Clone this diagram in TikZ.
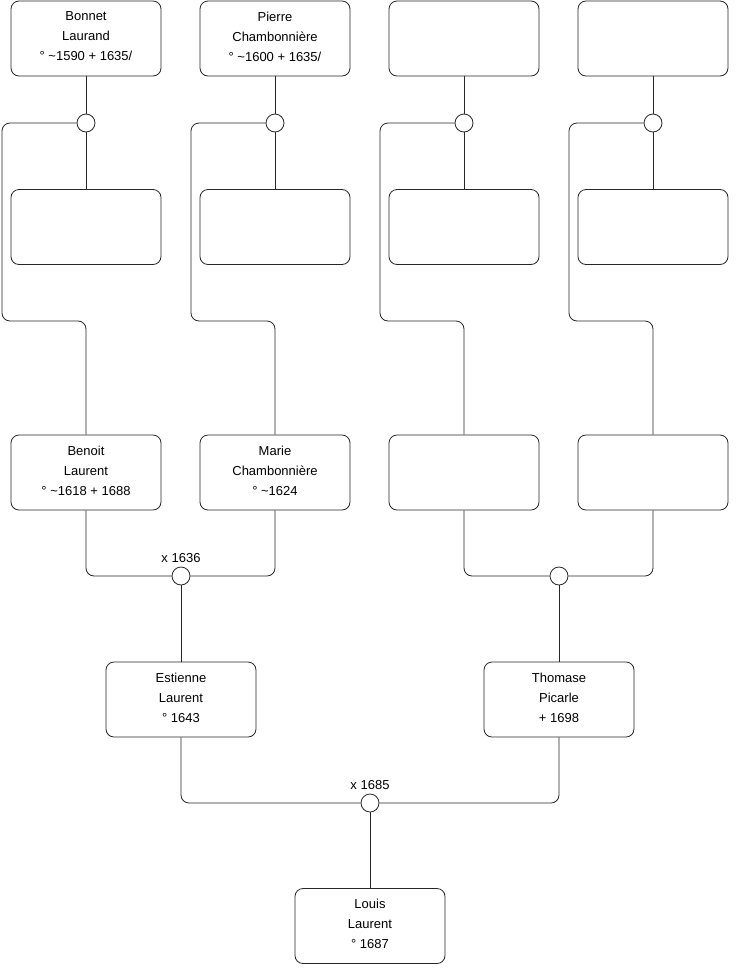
\documentclass[tikz,border=0pt]{standalone}
\usepackage{fontspec}
\setmainfont{Liberation Sans}
\begin{document}
\begin{tikzpicture}[x=1pt,y=-1pt,
  person/.style={draw=black!85, line width=0.8pt, rounded corners=8pt, minimum width=150pt, minimum height=75pt, align=center, font=\fontsize{13}{20}\selectfont, inner sep=0pt, execute at end node={\rule[-4pt]{0pt}{4pt}}},
  knot/.style={draw=black!85, line width=0.8pt, circle, minimum size=18pt, inner sep=0pt, fill=white},
  conn/.style={draw=black!85, line width=0.8pt, rounded corners=8pt},
  lbl/.style={font=\fontsize{13}{15}\selectfont, inner sep=0pt}]
\useasboundingbox (0,0) rectangle (740,975);
% row 1
\node[person] (p1) at (86,38.5) {Bonnet\\Laurand\\° \textasciitilde1590 + 1635/};
\node[person] (p2) at (275,38.5) {Pierre\\Chambonnière\\° \textasciitilde1600 + 1635/};
\node[person] (p3) at (464,38.5) {};
\node[person] (p4) at (653,38.5) {};
% knots row 1
\node[knot] (k1) at (86,123) {};
\node[knot] (k2) at (275,123) {};
\node[knot] (k3) at (464,123) {};
\node[knot] (k4) at (653,123) {};
% row 2
\node[person] (s1) at (86,227) {};
\node[person] (s2) at (275,227) {};
\node[person] (s3) at (464,227) {};
\node[person] (s4) at (653,227) {};
% row 3
\node[person] (c1) at (86,472.5) {Benoit\\Laurent\\° \textasciitilde1618 + 1688};
\node[person] (c2) at (275,472.5) {Marie\\Chambonnière\\° \textasciitilde1624};
\node[person] (c3) at (464,472.5) {};
\node[person] (c4) at (653,472.5) {};
% marriages row 3
\node[knot] (m1) at (181,576) {};
\node[knot] (m2) at (559,576) {};
\node[lbl] (l1) at (181,558) {x 1636};
% row 4
\node[person] (e1) at (181,699.5) {Estienne\\Laurent\\° 1643};
\node[person] (e2) at (559,699.5) {Thomase\\Picarle\\+ 1698};
\node[knot] (m3) at (370,803) {};
\node[lbl] (l2) at (370,785) {x 1685};
% row 5
\node[person] (f1) at (370,926) {Louis\\Laurent\\° 1687};

% connectors row1
\foreach \i/\lx in {1/2,2/191,3/380,4/569}{
  \draw[conn] (p\i.south) -- (k\i.north);
  \draw[conn] (k\i.south) -- (s\i.north);
  \draw[conn] (k\i.west) -| (\lx,321) -| (c\i.north);
}
% marriages
\draw[conn] (c1.south) |- (m1.west);
\draw[conn] (c2.south) |- (m1.east);
\draw[conn] (m1.south) -- (e1.north);
\draw[conn] (c3.south) |- (m2.west);
\draw[conn] (c4.south) |- (m2.east);
\draw[conn] (m2.south) -- (e2.north);
\draw[conn] (e1.south) |- (m3.west);
\draw[conn] (e2.south) |- (m3.east);
\draw[conn] (m3.south) -- (f1.north);
\end{tikzpicture}
\end{document}
